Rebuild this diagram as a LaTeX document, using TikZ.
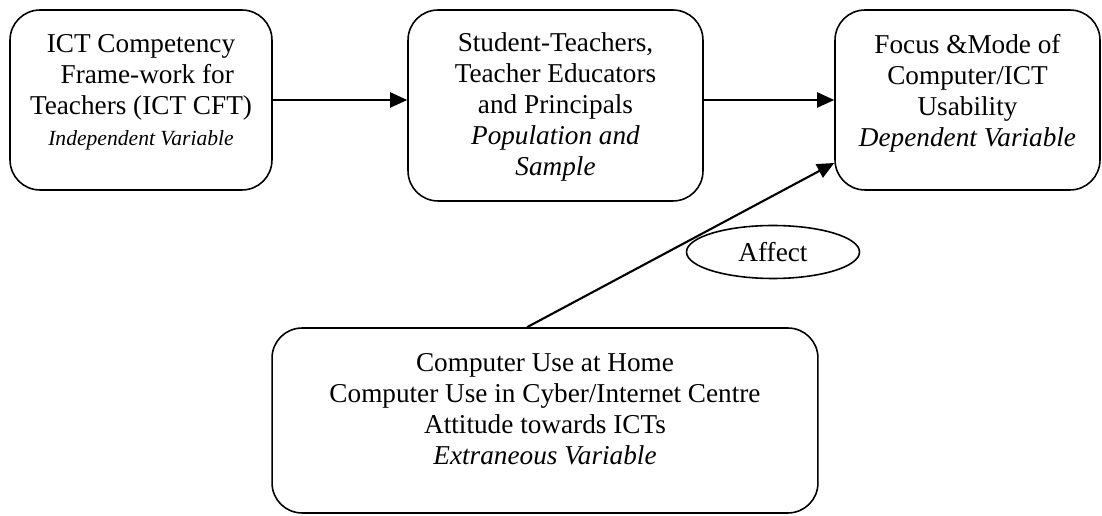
\documentclass[tikz,border=0pt]{standalone}
\usepackage{fontspec}
\setmainfont{Liberation Serif}
\usetikzlibrary{arrows.meta,shapes.geometric}

\begin{document}
\begin{tikzpicture}[x=0.02cm,y=-0.02cm,font=\fontsize{15.5}{17.6}\selectfont]
	\tikzset{BoxStyle/.style={draw, line width=0.9pt, rounded corners=0.6cm}}
	\tikzset{TextStyle/.style={align=center, inner sep=0pt}}
	\tikzset{ArrowStyle/.style={-{Triangle[length=0.34cm,width=0.3cm]}, line width=1.2pt}}
	\useasboundingbox (0,0) rectangle (1102,516);
	\node[BoxStyle, minimum width=5.24cm, minimum height=3.6cm] (ict) at (141,100) {};
	\node[TextStyle] (icttext) at (141,92) {ICT Competency\\ \hspace*{0.25cm}Frame-work for\\ Teachers (ICT CFT)\\ {\fontsize{12.3}{14}\selectfont\itshape Independent Variable}};
	\node[BoxStyle, minimum width=5.9cm, minimum height=3.82cm] (pop) at (555.5,105.5) {};
	\node[TextStyle] (poptext) at (555.5,107) {Student-Teachers,\\ Teacher Educators\\ and Principals\\ \textit{Population and}\\ \textit{Sample}};
	\node[BoxStyle, minimum width=5.3cm, minimum height=3.6cm] (focus) at (967.5,100) {};
	\node[TextStyle] (focustext) at (967.5,93) {Focus \&Mode of\\ Computer/ICT\\ Usability\\ \textit{Dependent Variable}};
	\node[BoxStyle, minimum width=10.92cm, minimum height=3.7cm] (ext) at (545,420.5) {};
	\node[TextStyle] (exttext) at (545,409) {Computer Use at Home\\ Computer Use in Cyber/Internet Centre\\ Attitude towards ICTs\\ \textit{Extraneous Variable}};
	\node[draw, ellipse, line width=0.9pt, minimum width=3.46cm, minimum height=1.06cm] (affect) at (773,252) {Affect};
	\draw[ArrowStyle] (ict.east) -- (ict.east -| pop.west);
	\draw[ArrowStyle] (pop.east |- focus.west) -- (focus.west);
	\draw[ArrowStyle] ([xshift=-0.36cm]ext.north) -- ([yshift=-1.26cm]focus.west);
\end{tikzpicture}
\end{document}
